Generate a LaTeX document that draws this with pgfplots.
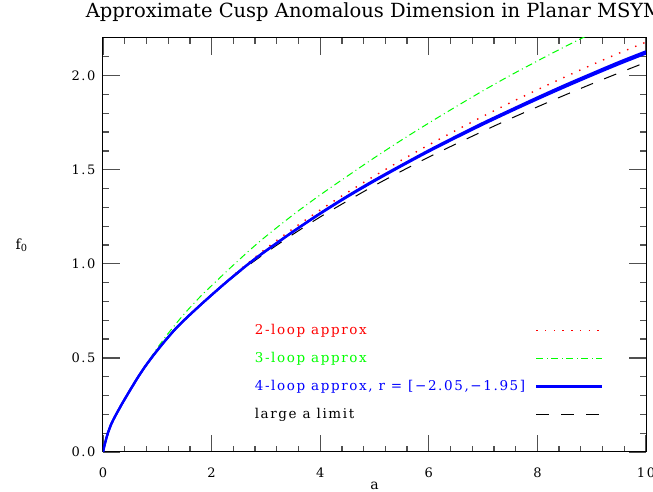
\documentclass[border=0pt]{standalone}
\usepackage{pgfplots}
\pgfplotsset{compat=1.18}
\usepackage{pgfplotstable}
\usepackage{fontspec}
\setmainfont{DejaVu Serif}
\newfontfamily\smfont{DejaVu Serif}[LetterSpace=12]

\definecolor{smred}{RGB}{255,0,0}
\definecolor{smgreen}{RGB}{0,255,0}
\definecolor{smblue}{RGB}{0,0,255}
\definecolor{tickcol}{RGB}{80,80,80}

% 4-loop approx (band lo/hi)
\pgfplotstableread{
x     lo     hi
0     0      0
0.02  0.026  0.026
0.04  0.049  0.049
0.06  0.071  0.071
0.08  0.091  0.091
0.11  0.117  0.117
0.15  0.147  0.147
0.20  0.177  0.177
0.25  0.204  0.204
0.35  0.256  0.256
0.45  0.305  0.305
0.55  0.353  0.353
0.65  0.400  0.400
0.77  0.452  0.452
0.90  0.503  0.503
1.00  0.540  0.540
1.17  0.600  0.600
1.40  0.674  0.674
1.79  0.780  0.780
2.20  0.885  0.885
2.52  0.962  0.963
2.75  1.015  1.016
3.00  1.068  1.070
3.50  1.170  1.172
4.00  1.266  1.269
4.50  1.356  1.360
5.00  1.440  1.445
5.50  1.520  1.525
6.00  1.597  1.603
6.50  1.670  1.677
7.00  1.741  1.749
7.50  1.809  1.817
8.00  1.875  1.884
8.50  1.939  1.949
9.00  2.001  2.011
9.50  2.061  2.072
10.0  2.118  2.129
}\fourloop

% 2-loop approx
\pgfplotstableread{
x     y
0     0
0.04  0.049
0.08  0.091
0.15  0.147
0.25  0.204
0.45  0.305
0.65  0.400
0.90  0.503
1.17  0.600
1.40  0.674
1.79  0.780
2.00  0.836
2.50  0.963
3.00  1.081
3.50  1.187
4.00  1.286
4.50  1.379
5.00  1.467
5.50  1.551
6.00  1.632
6.50  1.709
7.00  1.784
7.50  1.856
8.00  1.925
8.50  1.992
9.00  2.057
9.50  2.119
10.0  2.178
}\twoloop

% 3-loop approx
\pgfplotstableread{
x     y
0     0
0.04  0.049
0.08  0.091
0.15  0.147
0.25  0.204
0.45  0.305
0.65  0.400
0.80  0.467
1.00  0.552
1.20  0.630
1.50  0.735
1.80  0.828
2.00  0.884
2.34  0.977
2.70  1.072
3.00  1.146
3.50  1.260
4.00  1.366
4.50  1.466
5.00  1.564
5.50  1.658
6.00  1.748
6.50  1.835
7.00  1.920
7.50  2.001
8.00  2.078
8.50  2.153
9.00  2.225
}\threeloop

% large a limit
\pgfplotstableread{
x     y
0.5   0.334
1.0   0.542
1.5   0.700
2.0   0.834
2.5   0.953
3.0   1.059
3.5   1.157
4.0   1.249
4.5   1.334
5.0   1.416
5.5   1.493
6.0   1.567
6.5   1.637
7.0   1.705
7.5   1.771
8.0   1.834
8.5   1.896
9.0   1.956
9.5   2.014
10.0  2.071
}\largea

\begin{document}
\begin{tikzpicture}
\begin{axis}[
  scale only axis,
  width=543pt, height=414pt,
  xmin=0, xmax=10, ymin=0, ymax=2.2,
  xtick={0,2,4,6,8,10},
  ytick={0,0.5,1,1.5,2},
  minor xtick={0.4,0.8,1.2,1.6,2.4,2.8,3.2,3.6,4.4,4.8,5.2,5.6,6.4,6.8,7.2,7.6,8.4,8.8,9.2,9.6},
  minor ytick={0.1,0.2,0.3,0.4,0.6,0.7,0.8,0.9,1.1,1.2,1.3,1.4,1.6,1.7,1.8,1.9,2.1},
  tick align=inside,
  tick pos=both,
  major tick length=17pt, minor tick length=6pt,
  major tick style={draw=tickcol, line width=1.3pt, solid},
  minor tick style={draw=tickcol, line width=1.3pt, solid},
  axis line style={line width=1pt},
  /pgf/number format/assume math mode=true,
  tick label style={font=\smfont\fontsize{13}{15}\selectfont},
  xticklabel style={yshift=-12pt},
  yticklabel style={xshift=-4pt, /pgf/number format/fixed,
    /pgf/number format/fixed zerofill, /pgf/number format/precision=1},
  title={Approximate Cusp Anomalous Dimension in Planar MSYM},
  title style={font=\fontsize{19.5}{22}\selectfont, inner sep=0pt, at={(0.5,1)}, anchor=base, yshift=14pt},
  xlabel={a},
  xlabel style={font=\fontsize{14}{16}\selectfont, at={(axis description cs:0.5,0)}, anchor=base, yshift=-38pt},
  ylabel={f\textsubscript{0}},
  ylabel style={font=\fontsize{14}{16}\selectfont, at={(axis description cs:-0.15,0.5)}, rotate=-90, anchor=center},
  legend plot pos=right,
  legend cell align=left,
  legend image code/.code={\draw[#1] (0pt,0pt) -- (66pt,0pt);},
  legend style={at={(axis cs:2.70,0.70)}, anchor=north west, draw=none, fill=none,
    font=\smfont\fontsize{13.5}{16}\selectfont, row sep=12.3pt, column sep=8pt},
]
\addplot[smred, smooth, line width=1.4pt, dash pattern=on 1.4pt off 7.3pt] table[x=x, y=y] {\twoloop};
\addlegendentry{\textcolor{smred}{2-loop approx}}
\addplot[smgreen, smooth, line width=1pt, dash pattern=on 7pt off 3.5pt on 1pt off 3.5pt] table[x=x, y=y] {\threeloop};
\addlegendentry{\textcolor{smgreen}{3-loop approx}}
\addplot[black, smooth, line width=1pt, dash pattern=on 13pt off 12pt, forget plot] table[x=x, y=y] {\largea};
\addplot[smblue, smooth, line width=2.3pt] table[x=x, y=lo] {\fourloop};
\addlegendentry{\textcolor{smblue}{4-loop approx, r = [−2.05,−1.95]}}
\addplot[smblue, smooth, line width=2.3pt, forget plot] table[x=x, y=hi] {\fourloop};
\addlegendimage{black, line width=1pt, dash pattern=on 13pt off 12pt}
\addlegendentry{large a limit}
\end{axis}
\pgfresetboundingbox
\useasboundingbox (-103pt,-40pt) rectangle (550pt,452pt);
\end{tikzpicture}
\end{document}
